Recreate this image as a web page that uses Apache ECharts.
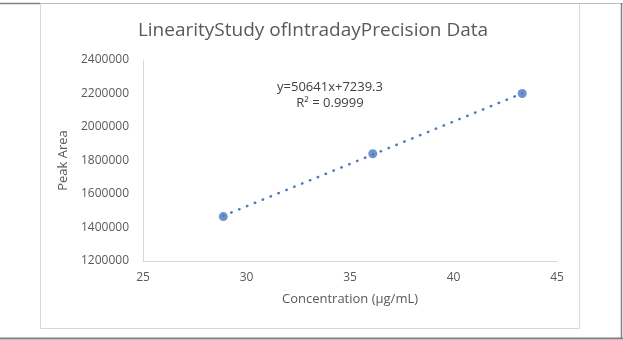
<!DOCTYPE html>
<html>
<head>
<meta charset="utf-8">
<script src="https://cdn.jsdelivr.net/npm/echarts@6/dist/echarts.min.js"></script>
<style>
html,body{margin:0;padding:0;background:#fff;}
#J_Main{width:623px;height:340px;}
</style>
</head>
<body>
<div id="J_Main"></div>
<script>
// measured points (concentration, peak area)
var concentration=[28.88,36.1,43.32];
var peakArea=[1465000,1840000,2200000];
// linear trendline ends
var trendX=[28.88,43.32];
var trendY=[1469700,2200900];
var xTicks=[25,30,35,40,45];
var yTicks=[1200000,1400000,1600000,1800000,2000000,2200000,2400000];
var equationText=["y=50641x+7239.3","R² = 0.9999"];

var fontName="'Open Sans', 'Noto Sans', sans-serif";
var myChart=echarts.init(document.getElementById("J_Main"));

var option={
    animation:false,
    backgroundColor:"#fff",
    title:{
        text:"LinearityStudy ofIntradayPrecision Data",
        left:308,
        top:16,
        textAlign:"center",
        textStyle:{
            color:"#595959",
            fontSize:19,
            fontWeight:"normal",
            fontFamily:fontName
        }
    },
    grid:{
        left:143,
        right:66,
        top:60,
        bottom:79
    },
    xAxis:{
        type:"value",
        min:xTicks[0],
        max:xTicks[xTicks.length-1],
        interval:5,
        name:"Concentration (µg/mL)",
        nameLocation:"middle",
        nameGap:32,
        nameTextStyle:{color:"#595959",fontSize:13,fontFamily:fontName},
        splitLine:{show:false},
        axisTick:{show:false},
        axisLine:{lineStyle:{color:"#d9d9d9",width:1}},
        axisLabel:{color:"#595959",fontSize:12,margin:11,fontFamily:fontName}
    },
    yAxis:{
        type:"value",
        min:yTicks[0],
        max:yTicks[yTicks.length-1],
        interval:200000,
        name:"Peak Area",
        nameLocation:"middle",
        nameGap:72,
        nameTextStyle:{color:"#595959",fontSize:13,fontFamily:fontName},
        splitLine:{show:false},
        axisTick:{show:false},
        axisLine:{show:true,lineStyle:{color:"#d9d9d9",width:1}},
        axisLabel:{color:"#595959",fontSize:12,margin:14,fontFamily:fontName,
            formatter:function(v){return String(v);}}
    },
    graphic:[
        {type:"rect",shape:{x:40.5,y:3.5,width:539,height:325},style:{fill:"none",stroke:"#d9d9d9",lineWidth:1},z:-1},
        {type:"line",shape:{x1:0,y1:3.5,x2:623,y2:3.5},style:{stroke:"#bfbfbf",lineWidth:1}},
        {type:"line",shape:{x1:0,y1:3.5,x2:40,y2:3.5},style:{stroke:"#808080",lineWidth:1.5}},
        {type:"line",shape:{x1:621.5,y1:3,x2:621.5,y2:339},style:{stroke:"#808080",lineWidth:1.5}},
        {type:"line",shape:{x1:0,y1:338.5,x2:623,y2:338.5},style:{stroke:"#808080",lineWidth:2}},
        {
            type:"text",
            x:330,
            y:79,
            style:{
                text:equationText.join("\n"),
                align:"center",
                fill:"#404040",
                fontSize:13,
                lineHeight:16,
                fontFamily:fontName
            }
        }
    ],
    series:[{
        type:"line",
        data:trendX.map(function(x,i){return [x,trendY[i]];}),
        symbol:"none",
        silent:true,
        lineStyle:{color:"#4a7bbd",width:2.5,type:[0.5,8],cap:"round"},
        z:1
    },{
        type:"scatter",
        data:concentration.map(function(x,i){return [x,peakArea[i]];}),
        symbolSize:9,
        itemStyle:{color:"#4a7bbd"},
        z:2
    }]
};
myChart.setOption(option);
</script>
</body>
</html>
